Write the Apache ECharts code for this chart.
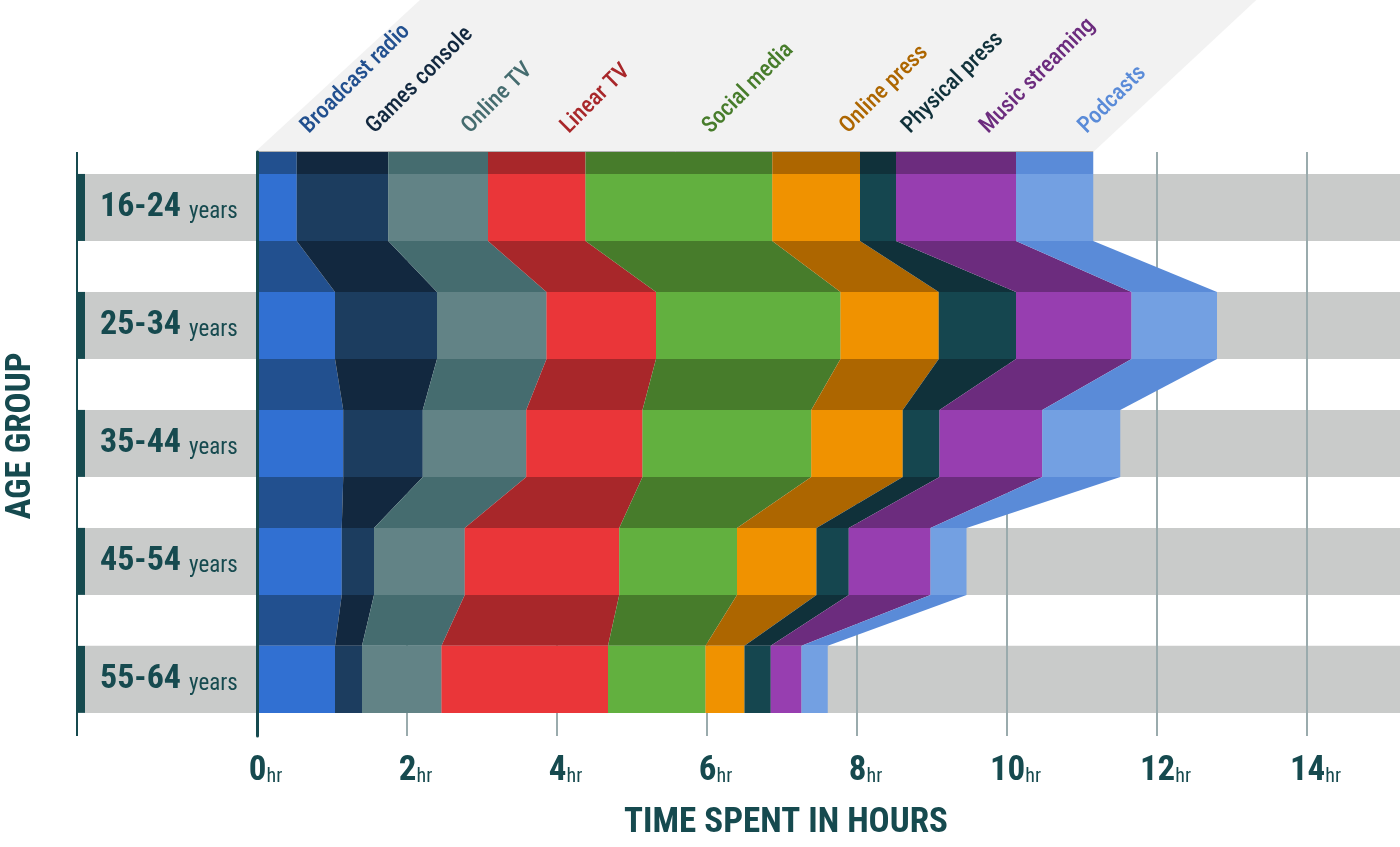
<!DOCTYPE html>
<html><head><meta charset="utf-8">
<script src="https://cdn.jsdelivr.net/npm/echarts@6/dist/echarts.min.js"></script>
<style>html,body{margin:0;padding:0;background:#fff}#c{width:1400px;height:847px}</style>
</head><body><div id="c"></div>
<script>
// ---- data ----
const ageGroups = ['16-24', '25-34', '35-44', '45-54', '55-64'];
const media = ['Broadcast radio', 'Games console', 'Online TV', 'Linear TV', 'Social media', 'Online press', 'Physical press', 'Music streaming', 'Podcasts'];
const broadcastRadio = [0.53, 1.04, 1.15, 1.13, 1.04];
const gamesConsole   = [1.22, 1.36, 1.06, 0.43, 0.36];
const onlineTV       = [1.33, 1.46, 1.38, 1.21, 1.06];
const linearTV       = [1.30, 1.46, 1.55, 2.06, 2.22];
const socialMedia    = [2.49, 2.46, 2.25, 1.57, 1.30];
const onlinePress    = [1.17, 1.31, 1.22, 1.06, 0.52];
const physicalPress  = [0.48, 1.03, 0.49, 0.43, 0.35];
const musicStreaming = [1.60, 1.54, 1.37, 1.09, 0.41];
const podcasts       = [1.03, 1.14, 1.04, 0.48, 0.35];
const hourTicks = [0, 2, 4, 6, 8, 10, 12, 14];

// ---- styles ----
const barColors  = ['#3170d2', '#1c3d5f', '#628386', '#ea3639', '#62b03f', '#f09200', '#15464f', '#973eb0', '#73a0e2'];
const linkColors = ['#22508f', '#12283f', '#456c6f', '#a8272a', '#477c2b', '#ad6600', '#10313a', '#6c2c7e', '#5a8bd8'];
const TEAL = '#164a4f';
const FONT = "'Roboto Condensed', 'Liberation Sans Narrow', 'DejaVu Sans Condensed', Roboto, sans-serif";
const Y_MIN = -0.47, Y_MAX = 4.48, HALF = 0.284, X_MAX = 1143 / 75;

const values = [broadcastRadio, gamesConsole, onlineTV, linearTV, socialMedia, onlinePress, physicalPress, musicStreaming, podcasts];
const cum = ageGroups.map((g, r) => {
  const a = [0];
  values.forEach(v => a.push(a[a.length - 1] + v[r]));
  return a;
});

const chart = echarts.init(document.getElementById('c'), null, { renderer: 'canvas' });

function renderBands(params, api) {
  const r = api.value(0);
  const cs = params.coordSys;
  const top = api.coord([0, r - HALF])[1];
  const bot = api.coord([0, r + HALF])[1];
  const right = cs.x + cs.width;
  const children = [
    { type: 'rect', shape: { x: 85, y: top, width: right - 85, height: bot - top }, style: { fill: '#c9cbca' } },
    { type: 'rect', shape: { x: 76, y: top, width: 9, height: bot - top }, style: { fill: TEAL } },
    { type: 'text', x: 100, y: (top + bot) / 2, style: {
        text: '{a|' + ageGroups[r] + '}{b|years}', verticalAlign: 'middle', align: 'left',
        rich: {
          a: { fontFamily: FONT, fontSize: 34, fontWeight: 'bold', fill: TEAL, verticalAlign: 'bottom' },
          b: { fontFamily: FONT, fontSize: 23, fill: TEAL, verticalAlign: 'bottom', padding: [0, 0, 1, 8] }
        } } }
  ];
  if (r === 0) {
    children.push({ type: 'line', shape: { x1: 77, y1: cs.y, x2: 77, y2: cs.y + cs.height }, style: { stroke: TEAL, lineWidth: 2 } });
  }
  return { type: 'group', children };
}

function renderBars(params, api) {
  const r = api.value(0);
  const c = cum[r];
  const children = [];
  const n = media.length;
  if (r === 0) {
    // header parallelogram
    const bl = api.coord([0, Y_MIN]);
    const br = api.coord([c[n], Y_MIN]);
    const slant = 163;
    children.push({ type: 'polygon', shape: { points: [[bl[0] - 2, bl[1]], [br[0], br[1]], [br[0] + slant, 0], [bl[0] + slant, 0]] }, style: { fill: '#f2f2f2' } });
    children.push({ type: 'line', shape: { x1: bl[0], y1: bl[1] - 0.5, x2: br[0], y2: br[1] - 0.5 }, style: { stroke: '#b0b0b0', lineWidth: 1 } });
    for (let k = 0; k < n; k++) {
      const p0 = api.coord([c[k], Y_MIN]);
      const p1 = api.coord([c[k + 1], r - HALF]);
      children.push({ type: 'rect', shape: { x: p0[0], y: p0[1], width: p1[0] - p0[0], height: p1[1] - p0[1] }, style: { fill: linkColors[k] } });
      const cx = (p0[0] + p1[0]) / 2;
      children.push({ type: 'text', x: cx + 36, y: p0[1] - 14, rotation: Math.PI / 4,
        style: { text: media[k], fontFamily: FONT, fontSize: 23, fontWeight: 500, fill: linkColors[k], align: 'left', verticalAlign: 'bottom' } });
    }
  }
  for (let k = 0; k < n; k++) {
    const p0 = api.coord([c[k], r - HALF]);
    const p1 = api.coord([c[k + 1], r + HALF]);
    children.push({ type: 'rect', shape: { x: p0[0], y: p0[1], width: p1[0] - p0[0], height: p1[1] - p0[1] }, style: { fill: barColors[k] } });
  }
  if (r < ageGroups.length - 1) {
    const d = cum[r + 1];
    for (let k = 0; k < n; k++) {
      const pts = [
        api.coord([c[k], r + HALF]), api.coord([c[k + 1], r + HALF]),
        api.coord([d[k + 1], r + 1 - HALF]), api.coord([d[k], r + 1 - HALF])
      ];
      children.push({ type: 'polygon', shape: { points: pts }, style: { fill: linkColors[k] } });
    }
  }
  return { type: 'group', children };
}

const rowData = ageGroups.map((g, i) => [i]);

chart.setOption({
  animation: false,
  backgroundColor: '#ffffff',
  grid: { left: 257, right: 0, top: 152, bottom: 111 },
  xAxis: {
    type: 'value', min: 0, max: X_MAX, interval: 2, z: 2,
    axisLine: { show: false }, axisTick: { show: false },
    splitLine: { show: true, showMaxLine: false, lineStyle: { color: '#9aabad', width: 2 } },
    axisLabel: {
      margin: 18, showMaxLabel: false,
      formatter: v => hourTicks.includes(v) ? '{n|' + v + '}{h|hr}' : '',
      rich: {
        n: { fontFamily: FONT, fontSize: 35, fontWeight: 'bold', color: TEAL, padding: [0, 0, 0, 17], verticalAlign: 'bottom' },
        h: { fontFamily: FONT, fontSize: 20, color: TEAL, verticalAlign: 'bottom', padding: [0, 0, 2, 0] }
      }
    }
  },
  yAxis: {
    type: 'value', inverse: true, min: Y_MIN, max: Y_MAX, z: 5,
    axisLine: { show: true, lineStyle: { color: TEAL, width: 3 } },
    axisTick: { show: false }, axisLabel: { show: false }, splitLine: { show: false }
  },
  graphic: [
    { type: 'text', x: 21, y: 436, rotation: Math.PI / 2, z: 10,
      style: { text: 'AGE GROUP', fontFamily: FONT, fontSize: 35, fontWeight: 'bold', fill: TEAL, align: 'center', verticalAlign: 'middle' } },
    { type: 'text', x: 786, y: 823, z: 10,
      style: { text: 'TIME SPENT IN HOURS', fontFamily: FONT, fontSize: 35, fontWeight: 'bold', fill: TEAL, align: 'center', verticalAlign: 'middle' } }
  ],
  series: [
    { type: 'custom', name: 'bands', z: 1, clip: false, silent: true, data: rowData, renderItem: renderBands },
    { type: 'custom', name: 'media', z: 3, clip: false, silent: true, data: rowData, renderItem: renderBars }
  ]
});
</script>
</body></html>
